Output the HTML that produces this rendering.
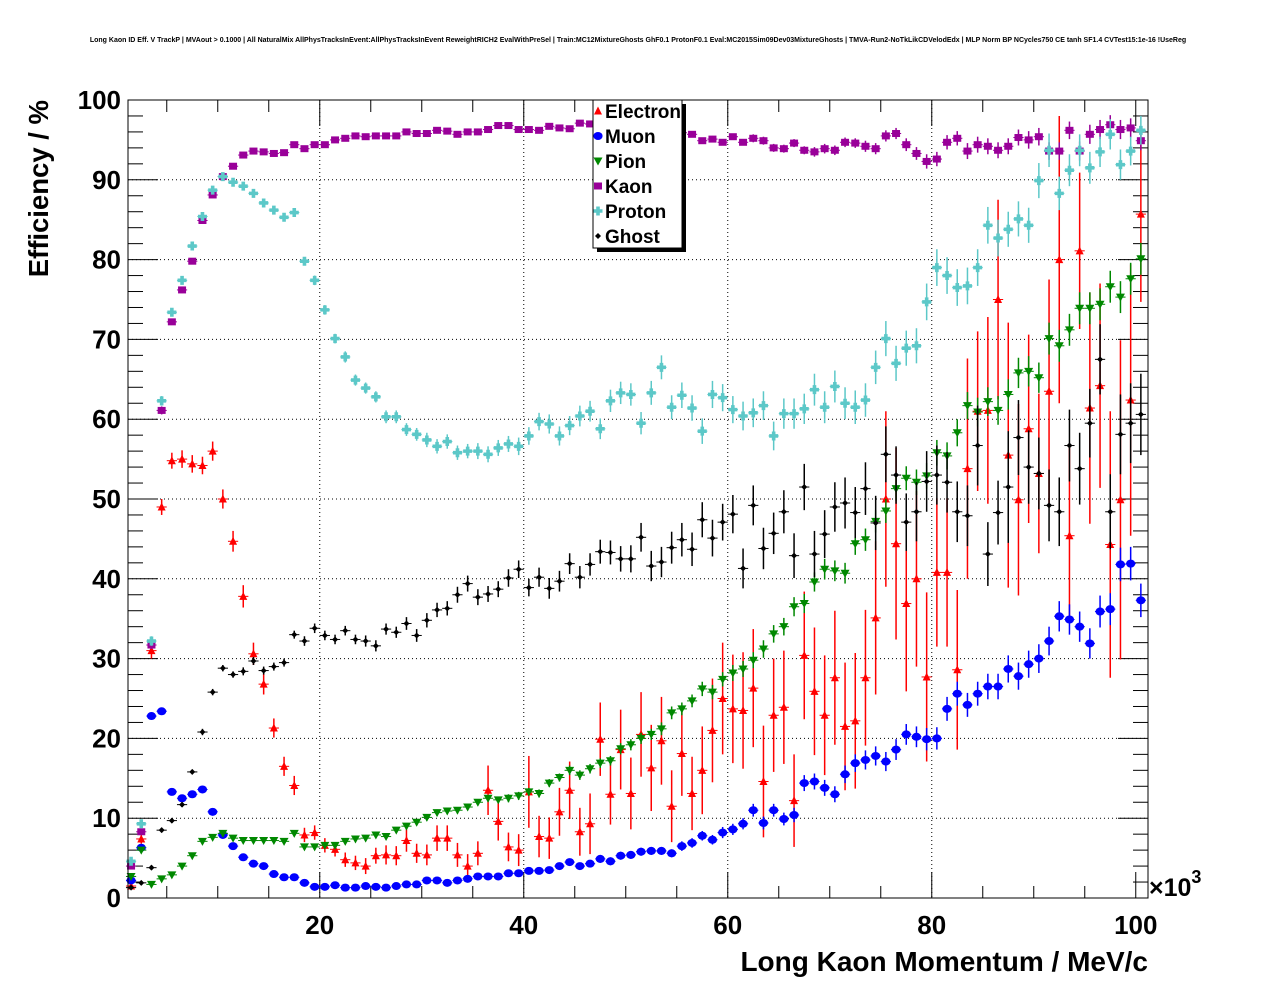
<!DOCTYPE html>
<html><head><meta charset="utf-8"><style>
html,body{margin:0;padding:0;background:#fff;}
svg{display:block;font-family:"Liberation Sans",Arial,sans-serif;}
</style></head>
<body>
<svg id="chart" width="1276" height="996" viewBox="0 0 1276 996" xmlns="http://www.w3.org/2000/svg">
<rect x="0" y="0" width="1276" height="996" fill="#fff"/>
<text x="638" y="42" font-size="7" font-weight="bold" text-anchor="middle">Long Kaon ID Eff. V TrackP | MVAout &gt; 0.1000 | All NaturalMix AllPhysTracksInEvent:AllPhysTracksInEvent ReweightRICH2 EvalWithPreSel | Train:MC12MixtureGhosts GhF0.1 ProtonF0.1 Eval:MC2015Sim09Dev03MixtureGhosts | TMVA-Run2-NoTkLikCDVelodEdx | MLP Norm BP NCycles750 CE tanh SF1.4 CVTest15:1e-16 !UseReg</text>
<g id="grid"></g>
<g id="axes"></g>
<g id="series"></g>
<rect x="128" y="100" width="1020" height="798" fill="none" stroke="#000" stroke-width="1"/>
<text transform="translate(48,100) rotate(-90)" font-size="27.5" font-weight="bold" text-anchor="end">Efficiency / %</text>
<text x="1148" y="971" font-size="28" font-weight="bold" text-anchor="end">Long Kaon Momentum / MeV/c</text>
<text x="1149" y="896" font-size="25" font-weight="bold">×10<tspan font-size="18" dy="-13">3</tspan></text>
<g id="legend"></g>
</svg>
<script>
const categories = [];
for (let i = 0; i < 100; i++) categories.push(1.5 + i);
const xTicks = [20, 40, 60, 80, 100];
const xTickLabels = ["20", "40", "60", "80", "100"];
const yTicks = [0, 10, 20, 30, 40, 50, 60, 70, 80, 90, 100];
const yTickLabels = ["0", "10", "20", "30", "40", "50", "60", "70", "80", "90", "100"];
const seriesNames = ["Electron", "Muon", "Pion", "Kaon", "Proton", "Ghost"];

const electronVals = [1.5,7.4,31,49,54.8,55,54.4,54.2,56,50,44.7,37.8,30.6,26.8,21.3,16.5,14.1,7.9,8.2,6.6,6.1,4.8,4.4,4.0,5.3,
5.4,5.3,7.2,5.6,5.4,7.5,7.5,5.4,4.0,5.6,13.5,9.6,6.4,6,13.3,7.7,7.5,10.8,13.5,8.3,9.3,19.9,13,18.6,13.1,
20.5,16.3,19.7,11.5,18.1,13.1,16,21,25,23.7,23.5,26.3,14.6,22.9,23.9,12.2,30.4,25.9,22.9,27.6,21.5,22.2,27.6,35.1,50,
44.4,36.9,40,27.7,40.8,40.8,28.6,53.8,61,61.1,75,55.5,49.9,58.8,53.2,63.5,80,45.4,81.1,61.4,64.2,44.3,49.9,62.4,85.7];
const electronErr = [0.4,0.6,1.0,1.0,1.0,1.1,1.1,1.1,1.2,1.2,1.3,1.4,1.4,1.3,1.2,1.2,1.2,0.9,0.9,0.9,0.9,0.9,0.9,1.0,1.0,
1.2,1.2,1.4,1.2,1.3,1.6,1.6,1.5,1.5,1.5,3.1,2.4,1.8,2.0,4.5,2.6,2.6,3.0,3.6,3.0,3.8,4.6,3.8,5.0,4.5,
5.3,5.4,5.5,4.5,5.3,4.6,5.5,6.5,7.0,6.8,7.3,7.4,7.0,7.1,7.1,5.8,8.0,8.0,7.5,8.4,8.0,8.5,8.5,9.6,11,
12,11,11,10.6,9.3,9.3,10,13.8,10,11.7,12.5,16.6,12,11.8,10,14,18,11,9.8,14.5,12.8,16.7,20,17,11];

const muonVals = [2.2,6.3,22.8,23.4,13.3,12.5,13,13.6,10.8,7.9,6.5,5.1,4.3,4,3,2.6,2.6,1.9,1.4,1.4,1.6,1.3,1.3,1.5,1.4,
1.3,1.5,1.7,1.7,2.2,2.2,1.9,2.2,2.4,2.7,2.7,2.7,3.1,3.1,3.4,3.4,3.5,4,4.5,4,4.3,4.9,4.6,5.3,5.4,
5.8,5.9,5.9,5.6,6.5,6.9,7.8,7.3,8.2,8.6,9.3,11,9.4,11,9.9,10.4,14.4,14.6,13.8,13,15.5,16.9,17.3,17.8,17.1,
18.6,20.5,20.2,19.9,20,23.7,25.6,24.2,25.6,26.5,26.5,28.7,27.8,29.3,30,32.2,35.3,34.9,34,31.9,35.9,36.2,41.8,41.9,37.3];
const muonErr = [0.3,0.4,0.4,0.4,0.4,0.4,0.4,0.4,0.3,0.3,0.3,0.3,0.3,0.3,0.3,0.3,0.3,0.3,0.3,0.3,0.3,0.3,0.3,0.3,0.3,
0.3,0.3,0.3,0.3,0.3,0.3,0.3,0.3,0.3,0.3,0.3,0.3,0.3,0.3,0.3,0.4,0.4,0.4,0.4,0.4,0.4,0.5,0.5,0.5,0.5,
0.5,0.5,0.5,0.5,0.6,0.6,0.6,0.6,0.7,0.7,0.7,0.8,0.8,0.8,0.8,0.9,1.0,1.0,1.0,1.0,1.1,1.1,1.2,1.2,1.2,
1.3,1.3,1.3,1.4,1.4,1.5,1.5,1.5,1.5,1.6,1.6,1.7,1.7,1.7,1.8,1.8,1.9,1.9,1.9,1.9,2.0,2.0,2.1,2.1,2.1];

const pionVals = [2.7,6.0,1.7,2.4,2.9,4,5.3,7.1,7.6,8.1,7.5,7.2,7.2,7.2,7.2,7.1,8.1,6.4,6.4,6.6,6.6,7.1,7.4,7.5,7.9,
7.7,8.5,9,9.5,10.1,10.7,10.9,11,11.4,12,12.5,12.3,12.5,12.8,13.3,13.1,14.4,15.1,16,15.4,16.2,16.9,17.2,18.7,19.2,
20,20.5,21.2,23.2,23.7,24.7,26.2,25.8,27.4,28.2,28.7,29.8,31.2,33.1,34,36.5,36.9,39.6,41.2,41,40.7,44.4,44.9,47.2,48.5,
51.3,52.6,52.1,52.9,55.8,55.4,58.3,61.7,60.9,62.2,61.1,63.1,65.8,66,65.2,70.1,69.2,71.2,73.9,73.9,74.4,76.6,75.3,77.6,80.1];
const pionErr = [0.3,0.3,0.2,0.2,0.2,0.3,0.3,0.3,0.3,0.3,0.3,0.3,0.3,0.3,0.3,0.3,0.3,0.3,0.3,0.3,0.3,0.3,0.3,0.3,0.3,
0.3,0.3,0.3,0.4,0.4,0.4,0.4,0.4,0.4,0.4,0.4,0.4,0.5,0.5,0.5,0.5,0.5,0.5,0.6,0.6,0.6,0.6,0.6,0.7,0.7,
0.7,0.7,0.8,0.8,0.8,0.8,0.9,0.9,0.9,1.0,1.0,1.0,1.1,1.1,1.1,1.2,1.2,1.2,1.3,1.3,1.3,1.4,1.4,1.4,1.5,
1.5,1.5,1.6,1.6,1.6,1.7,1.7,1.7,1.8,1.8,1.8,1.9,1.9,1.9,1.9,2.0,2.0,2.0,2.0,2.0,2.0,2.0,2.0,2.0,2.0];

const kaonVals = [4.0,8.3,31.7,61.1,72.2,76.2,79.8,84.9,88.1,90.4,91.7,93.1,93.6,93.5,93.3,93.4,94.4,93.9,94.4,94.4,95,95.2,95.5,95.4,95.5,
95.5,95.5,96,95.8,95.8,96.2,96.1,95.7,96,96,96.3,96.8,96.8,96.3,96.3,96.2,96.7,96.5,96.4,97.1,97,96.8,96.7,96.6,96.5,
96.4,96.3,96.2,96,95.9,95.7,94.9,95.1,94.7,95.4,94.7,95.2,94.9,94,93.9,94.6,93.7,93.5,93.9,93.7,94.7,94.6,94.2,93.9,95.5,
95.8,94.4,93.3,92.3,92.6,94.7,95.2,93.6,94.4,94.2,93.7,94.2,95.3,95,95.4,93.6,93.6,96.2,93.6,95.7,96.3,96.9,96.3,96.5,94.9];
const kaonErr = [0.3,0.4,0.5,0.5,0.4,0.4,0.3,0.3,0.3,0.2,0.2,0.2,0.2,0.2,0.2,0.2,0.2,0.2,0.2,0.2,0.2,0.2,0.2,0.2,0.2,
0.2,0.2,0.2,0.2,0.2,0.2,0.2,0.2,0.2,0.2,0.2,0.2,0.2,0.2,0.2,0.2,0.2,0.2,0.2,0.2,0.3,0.3,0.3,0.3,0.3,
0.3,0.3,0.3,0.3,0.3,0.4,0.4,0.4,0.4,0.4,0.4,0.5,0.5,0.5,0.5,0.5,0.5,0.6,0.6,0.6,0.6,0.6,0.7,0.7,0.7,
0.7,0.8,0.8,0.9,0.9,0.9,0.9,1.0,1.0,1.0,1.0,1.0,1.0,1.1,1.1,1.1,1.1,1.1,1.2,1.2,1.2,1.2,1.2,1.2,1.2];

const protonVals = [4.6,9.3,32.2,62.3,73.4,77.4,81.7,85.4,88.7,90.4,89.7,89.2,88.3,87.1,86.2,85.3,85.9,79.8,77.4,73.7,70.1,67.8,64.9,63.9,62.8,
60.3,60.3,58.7,58.1,57.4,56.6,57.2,55.8,56,56,55.6,56.4,56.9,56.6,57.9,59.7,59.4,57.9,59.2,60.4,61,58.8,62.3,63.3,63.1,
59.5,63.3,66.5,61.5,63,61.4,58.5,63.1,62.7,61.2,60.4,60.8,61.7,57.9,60.7,60.7,61.3,63.7,61.5,64.1,62,61.5,62.4,66.5,70.1,
67,68.9,69.2,74.7,79,78,76.5,76.7,79,84.3,82.7,83.8,85.1,84.3,89.9,93.7,88.3,91.2,93.7,91.5,93.5,95.7,91.9,93.6,96.2];
const protonErr = [0.4,0.5,0.6,0.6,0.5,0.5,0.5,0.4,0.4,0.4,0.4,0.4,0.5,0.5,0.5,0.5,0.5,0.5,0.6,0.6,0.6,0.7,0.7,0.7,0.7,
0.8,0.8,0.8,0.8,0.9,0.9,0.9,0.9,0.9,1.0,1.0,1.0,1.0,1.1,1.1,1.1,1.2,1.2,1.2,1.3,1.3,1.3,1.4,1.4,1.4,
1.4,1.5,1.5,1.5,1.6,1.6,1.6,1.7,1.7,1.7,1.8,1.8,1.8,1.8,1.9,1.9,1.9,2.0,2.0,2.0,2.0,2.1,2.1,2.1,2.2,
2.2,2.2,2.2,2.3,2.3,2.3,2.3,2.3,2.3,2.3,2.3,2.2,2.2,2.2,2.2,2.1,2.1,2.0,2.0,2.0,1.9,1.9,1.9,1.8,1.8];

const ghostVals = [1.3,1.9,3.8,8.5,9.7,11.7,15.8,20.8,25.8,28.8,28,28.4,29.7,28.5,29,29.5,33,32.2,33.8,32.9,32.4,33.5,32.4,32.2,31.6,
33.7,33.3,34.4,32.9,34.8,36.1,36.3,38,39.4,37.7,38.1,38.7,40.1,41.2,38.9,40.2,38.8,39.7,41.9,40.2,41.8,43.4,43.3,42.5,42.5,
45.2,41.6,42.1,43.9,44.9,43.7,47.4,45.1,47.1,48.1,41.3,49.2,43.8,45.7,48.4,42.9,51.5,43.1,45.6,49,49.5,48.3,51.3,47,55.6,
53,47.1,48.4,52.2,53,52.1,48.4,47.9,56.7,43.1,48.3,51.5,57.7,54,53.2,49.2,48.4,56.7,53.8,59.5,67.5,48.4,58.1,59.5,60.6];
const ghostErr = [0.2,0.2,0.3,0.3,0.3,0.3,0.3,0.4,0.4,0.4,0.4,0.5,0.5,0.5,0.5,0.5,0.5,0.6,0.6,0.6,0.6,0.6,0.6,0.7,0.7,
0.7,0.7,0.8,0.8,0.9,0.9,0.9,1,1,1,1,1,1.1,1.1,1.1,1.2,1.3,1.3,1.3,1.4,1.4,1.5,1.5,1.6,1.7,
1.8,1.9,1.9,2.0,2.1,2.1,2.2,2.3,2.3,2.4,2.5,2.5,2.6,2.6,2.7,2.8,2.9,2.9,3.0,3.1,3.2,3.2,3.3,3.4,3.5,
3.6,3.6,3.7,3.8,3.7,3.8,3.8,3.8,5.0,4.0,4.0,7.0,4.7,4.6,4.5,4.5,4.3,4.5,4.5,4.3,4.4,4.7,5.0,5.0,5.1];

const X0 = 128, X1 = 1148, Y0 = 898, Y1 = 100;
const xMin = 1.2, xMax = 101.2, yMin = 0, yMax = 100;
function xPix(v){ return X0 + (v - xMin) / (xMax - xMin) * (X1 - X0); }
function yPix(v){ return Y0 - (v - yMin) / (yMax - yMin) * (Y0 - Y1); }
const NS = "http://www.w3.org/2000/svg";
function mk(tag, attrs, parent){
  const e = document.createElementNS(NS, tag);
  for (const k in attrs) e.setAttribute(k, attrs[k]);
  parent.appendChild(e);
  return e;
}
const grid = document.getElementById('grid');
const axes = document.getElementById('axes');
const series = document.getElementById('series');
const legend = document.getElementById('legend');

xTicks.forEach(function(t){
  if (t >= 100) return;
  const l = mk('line', {x1:xPix(t), x2:xPix(t), y1:Y1, y2:Y0, stroke:'#000', 'stroke-width':1, 'stroke-dasharray':'1,3'}, grid);
  
  
});
yTicks.forEach(function(t){
  if (t <= 0 || t >= 100) return;
  const l = mk('line', {x1:X0, x2:X1, y1:yPix(t), y2:yPix(t), stroke:'#000', 'stroke-width':1, 'stroke-dasharray':'1,3'}, grid);
  
  
});

for (let v = 0; v <= 100; v += 2) {
  const major = v % 10 === 0;
  const len = major ? 30 : 15;
  const y = yPix(v);
  const a = mk('line', {x1:X0, x2:X0+len, y1:y, y2:y, stroke:'#000', 'stroke-width':1}, axes);
  
  
  const b = mk('line', {x1:X1, x2:X1-len, y1:y, y2:y, stroke:'#000', 'stroke-width':1}, axes);
  
  
}
yTicks.forEach(function(t, i){
  const tx = mk('text', {x:121, y:yPix(t)+9, 'font-size':26, 'font-weight':'bold', 'text-anchor':'end'}, axes);
  tx.textContent = yTickLabels[i];
  
  
});
for (let v = 5; v <= 100; v += 5) {
  const major = v % 20 === 0;
  const len = major ? 26 : 12;
  const x = xPix(v);
  const a = mk('line', {x1:x, x2:x, y1:Y0, y2:Y0-len, stroke:'#000', 'stroke-width':1}, axes);
  
  
  const b = mk('line', {x1:x, x2:x, y1:Y1, y2:Y1+(major?26:12), stroke:'#000', 'stroke-width':1}, axes);
  
  
}
xTicks.forEach(function(t, i){
  const tx = mk('text', {x:xPix(t), y:934, 'font-size':26, 'font-weight':'bold', 'text-anchor':'middle'}, axes);
  tx.textContent = xTickLabels[i];
  
  
});

function marker(kind, color, x, y, parent){
  let m;
  if (kind === 'tri-up') m = mk('polygon', {points:(x-4)+','+(y+3.5)+' '+(x+4)+','+(y+3.5)+' '+x+','+(y-4.5), fill:color}, parent);
  else if (kind === 'tri-down') m = mk('polygon', {points:(x-4.5)+','+(y-3.5)+' '+(x+4.5)+','+(y-3.5)+' '+x+','+(y+4.5), fill:color}, parent);
  else if (kind === 'circle') m = mk('ellipse', {cx:x, cy:y, rx:4.6, ry:4, fill:color}, parent);
  else if (kind === 'square') m = mk('rect', {x:x-4, y:y-3.5, width:8, height:7, fill:color}, parent);
  else if (kind === 'cross') m = mk('path', {d:'M'+(x-1.8)+','+(y-4.5)+'h3.6v2.7h2.7v3.6h-2.7v2.7h-3.6v-2.7h-2.7v-3.6h2.7z', fill:color}, parent);
  else m = mk('polygon', {points:x+','+(y-3)+' '+(x+3)+','+y+' '+x+','+(y+3)+' '+(x-3)+','+y, fill:color}, parent);
  return m;
}

const defs = [
  {vals:electronVals, err:electronErr, color:'#ff0000', kind:'tri-up', name:'electron'},
  {vals:muonVals, err:muonErr, color:'#0000ff', kind:'circle', name:'muon'},
  {vals:pionVals, err:pionErr, color:'#008800', kind:'tri-down', name:'pion'},
  {vals:kaonVals, err:kaonErr, color:'#990099', kind:'square', name:'kaon'},
  {vals:protonVals, err:protonErr, color:'#5cc8c8', kind:'cross', name:'proton'},
  {vals:ghostVals, err:ghostErr, color:'#000000', kind:'diamond', name:'ghost'}
];
defs.forEach(function(s){
  const g = mk('g', {}, series);
  
  
  categories.forEach(function(c, i){
    const v = s.vals[i];
    if (v === null || v === undefined) return;
    const x = xPix(c), y = yPix(v);
    const xl = xPix(c - 0.5), xr = xPix(c + 0.5);
    const h = mk('line', {x1:xl, x2:xr, y1:y, y2:y, stroke:s.color, 'stroke-width':1}, g);
    
    
    const e = s.err[i];
    const yt = yPix(Math.min(v + e, 100)), yb = yPix(Math.max(v - e, 0));
    const vl = mk('line', {x1:x, x2:x, y1:yt, y2:yb, stroke:s.color, 'stroke-width':1.5}, g);
    
    
    const m = marker(s.kind, s.color, x, y, g);
    
    
  });
});

const shadow = mk('rect', {x:597, y:104, width:89, height:148, fill:'#000'}, legend);


const box = mk('rect', {x:593, y:100, width:89, height:148, fill:'#fff', stroke:'#000', 'stroke-width':1}, legend);


defs.forEach(function(s, i){
  const y = 111 + i * 25;
  const g = mk('g', {}, legend);
  
  
  const m = marker(s.kind, s.color, 598, y, g);
  
  
  const t = mk('text', {x:605, y:y+7, 'font-size':19, 'font-weight':'bold'}, g);
  t.textContent = seriesNames[i];
  
  
});
</script>
</body></html>
